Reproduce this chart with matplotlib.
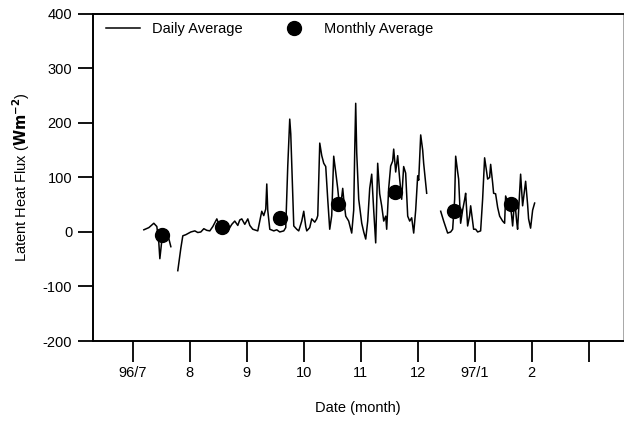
import matplotlib
matplotlib.use("Agg")
import matplotlib.pyplot as plt
from matplotlib.lines import Line2D

plt.rcParams["font.family"] = ["Liberation Sans", "DejaVu Sans"]
plt.rcParams["axes.unicode_minus"] = False

# ------------------------------------------------------------------ #
#  Data (x in months since 1996/7/1, y in W m-2)                       #
# ------------------------------------------------------------------ #

jul_x = [0.193, 0.281, 0.368, 0.421, 0.456, 0.474, 0.509, 0.561, 0.614, 0.667]
jul_y = [4, 8, 16, 10, -20, -49, -15, -3, -5, -27]

mid_x = [0.789, 0.842, 0.877, 0.930, 0.965, 1.018, 1.088, 1.140, 1.193, 1.246,
         1.298, 1.351, 1.404, 1.474, 1.526, 1.596, 1.667, 1.737, 1.789, 1.842,
         1.877, 1.912, 1.965, 2.018, 2.053, 2.105, 2.193, 2.263, 2.298, 2.333,
         2.351, 2.368, 2.404, 2.474, 2.526, 2.579, 2.649, 2.684, 2.719, 2.754,
         2.772, 2.825, 2.877, 2.912, 2.965, 3.000, 3.035, 3.053, 3.105, 3.140,
         3.193, 3.228, 3.246, 3.281, 3.316, 3.351, 3.386, 3.421, 3.456, 3.491,
         3.526, 3.561, 3.596, 3.632, 3.649, 3.684, 3.702, 3.737, 3.789, 3.842,
         3.877, 3.895, 3.912, 3.930, 3.965, 4.018, 4.053, 4.088, 4.123, 4.158,
         4.193, 4.228, 4.263, 4.298, 4.333, 4.368, 4.404, 4.439, 4.456, 4.491,
         4.526, 4.561, 4.579, 4.614, 4.649, 4.684, 4.719, 4.754, 4.789, 4.825,
         4.860, 4.895, 4.930, 4.965, 5.000, 5.018, 5.053, 5.088, 5.105, 5.158]
mid_y = [-71, -30, -7, -5, -3, 0, 2, -1, 0, 6,
         3, 2, 10, 24, 10, 5, 2, 14, 20, 12,
         22, 24, 14, 24, 12, 5, 2, 38, 30, 42,
         88, 40, 5, 2, 4, 0, 2, 8, 120, 207,
         180, 11, 5, 2, 20, 38, 10, 2, 8, 24,
         18, 24, 30, 163, 140, 126, 120, 60, 5, 30,
         139, 110, 80, 42, 48, 80, 60, 29, 20, -2,
         40, 150, 236, 145, 60, 16, 0, -13, 20, 80,
         106, 40, -20, 126, 70, 48, 20, 29, 5, 80,
         121, 130, 152, 110, 140, 97, 60, 120, 108, 29,
         20, 26, -2, 40, 103, 95, 178, 150, 126, 71]

win_x = [5.404, 5.456, 5.526, 5.579, 5.614, 5.649, 5.667, 5.702, 5.719, 5.754,
         5.789, 5.825, 5.842, 5.877, 5.912, 5.930, 5.982, 6.018, 6.053, 6.105,
         6.140, 6.175, 6.211, 6.228, 6.263, 6.281, 6.316, 6.333, 6.368, 6.404,
         6.439, 6.491, 6.526, 6.544, 6.579, 6.614, 6.649, 6.667, 6.702, 6.737,
         6.754, 6.807, 6.842, 6.895, 6.930, 6.947, 6.982, 7.018, 7.053]
win_y = [38, 20, -2, 0, 5, 60, 139, 110, 97, 16,
         40, 60, 71, 11, 30, 48, 5, 5, 0, 2,
         60, 136, 110, 97, 100, 124, 90, 71, 70, 45,
         29, 20, 16, 66, 55, 60, 30, 11, 60, 20,
         5, 106, 48, 93, 50, 24, 7, 40, 53]

monthly_x = [0.51, 1.56, 2.58, 3.60, 4.61, 5.63, 6.63]
monthly_y = [-5, 9, 25, 51, 74, 38, 51]

month_ticks = [0, 1, 2, 3, 4, 5, 6, 7, 8]
month_labels = ["96/7", "8", "9", "10", "11", "12", "97/1", "2", ""]

# ------------------------------------------------------------------ #
#  Plot                                                                #
# ------------------------------------------------------------------ #

fig = plt.figure(figsize=(6.24, 4.21), dpi=100)
ax = fig.add_axes([0.149, 0.19, 0.849, 0.777])

for xs, ys in [(jul_x, jul_y), (mid_x, mid_y), (win_x, win_y)]:
    ax.plot(xs, ys, color="black", lw=1.1)
ax.plot(monthly_x, monthly_y, "o", color="black", ms=10, ls="none")

ax.set_xlim(-0.70, 8.6)
ax.set_ylim(-200, 400)
ax.set_yticks([-200, -100, 0, 100, 200, 300, 400])
ax.set_xticks(month_ticks)
ax.set_xticklabels(month_labels)
ax.tick_params(axis="both", direction="out", labelsize=10.5, width=1.3)
ax.tick_params(axis="y", length=11, pad=4)
ax.tick_params(axis="x", length=15, pad=3)

for side in ["left", "bottom", "top"]:
    ax.spines[side].set_linewidth(1.4)
ax.spines["right"].set_linewidth(0.6)
ax.spines["right"].set_color("#999999")

ax.set_ylabel(r"Latent Heat Flux ($\mathbf{Wm^{-2}}$)", fontsize=10.5, labelpad=8)
ax.set_xlabel("Date (month)", fontsize=10.5, labelpad=15)

handles = [
    Line2D([], [], color="black", lw=1.1),
    Line2D([], [], marker="o", color="black", ms=10, ls="none"),
]
ax.legend(handles, ["Daily Average", "Monthly Average"], ncol=2, frameon=False,
          loc="upper left", bbox_to_anchor=(0.0, 1.015), fontsize=10.5,
          handlelength=2.3, handletextpad=0.85, columnspacing=2.4)

fig.savefig("out.png", dpi=100)
